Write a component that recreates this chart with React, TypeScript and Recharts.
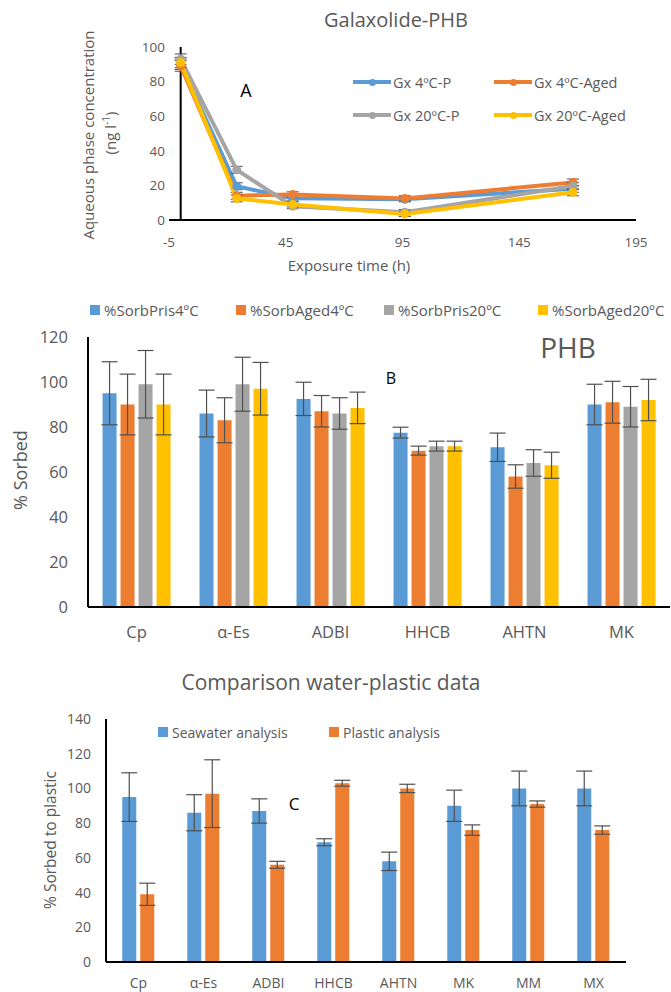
import React from "react";
import {
  LineChart,
  Line,
  BarChart,
  Bar,
  XAxis,
  YAxis,
  ErrorBar,
  ReferenceLine,
} from "recharts";

// ---- A: Galaxolide-PHB (aqueous phase concentration)
const times = [0, 24, 48, 96, 168];
const gx4P = [90, 19.5, 12.5, 12, 18];
const gx4Aged = [89, 14, 14.8, 12.5, 21.7];
const gx20P = [93, 29, 8, 4.5, 19.6];
const gx20Aged = [91, 12.5, 9, 3.5, 16];
const gx4PErr = [3, 2, 1.5, 1.5, 2];
const gx4AgedErr = [3, 2, 1.5, 1.5, 2];
const gx20PErr = [3, 2, 1.5, 1.5, 2];
const gx20AgedErr = [3, 2, 1.5, 1.5, 2];
const xTicksA = [-5, 45, 95, 145, 195];
const yTicksA = [0, 20, 40, 60, 80, 100];

// ---- B: PHB % sorbed
const catsB = ["Cp", "α-Es", "ADBI", "HHCB", "AHTN", "MK"];
const pris4 = [95, 86, 92.5, 77.5, 71, 90];
const pris4Err = [14, 10.4, 7.4, 2.4, 6.3, 9];
const aged4 = [90, 83, 87, 69.5, 58, 91];
const aged4Err = [13.5, 10, 7, 2, 5.2, 9.3];
const pris20 = [99, 99, 86, 71.5, 64, 89];
const pris20Err = [15, 12, 7, 2.2, 5.9, 9];
const aged20 = [90, 97, 88.5, 71.5, 63, 92];
const aged20Err = [13.5, 11.7, 7, 2.2, 5.8, 9.2];
const yTicksB = [0, 20, 40, 60, 80, 100, 120];

// ---- C: comparison water-plastic
const catsC = ["Cp", "α-Es", "ADBI", "HHCB", "AHTN", "MK", "MM", "MX"];
const seawater = [95, 86, 87, 69, 58, 90, 100, 100];
const seawaterErr = [14, 10.4, 7, 2, 5.3, 9, 10, 10];
const plastic = [39, 97, 56, 103, 100, 76, 91, 76];
const plasticErr = [6.4, 19.5, 2, 1.7, 2.4, 3, 1.8, 2.4];
const yTicksC = [0, 20, 40, 60, 80, 100, 120, 140];

const BLUE = "#5B9BD5";
const ORANGE = "#ED7D31";
const GRAY = "#A5A5A5";
const YELLOW = "#FFC000";
const TXT = "#595959";
const ERR = "#505050";

const dataA = times.map((t, i) => ({
  t,
  b: gx4P[i],
  bE: gx4PErr[i],
  o: gx4Aged[i],
  oE: gx4AgedErr[i],
  g: gx20P[i],
  gE: gx20PErr[i],
  y: gx20Aged[i],
  yE: gx20AgedErr[i],
}));

const dataB = catsB.map((c, i) => ({
  c,
  p4: pris4[i],
  p4E: pris4Err[i],
  a4: aged4[i],
  a4E: aged4Err[i],
  p20: pris20[i],
  p20E: pris20Err[i],
  a20: aged20[i],
  a20E: aged20Err[i],
}));

const dataC = catsC.map((c, i) => ({
  c,
  s: seawater[i],
  sE: seawaterErr[i],
  p: plastic[i],
  pE: plasticErr[i],
}));

type TProps = {
  x: number;
  y: number;
  size: number;
  color?: string;
  rotate?: boolean;
  children: React.ReactNode;
};

function T({ x, y, size, color = TXT, rotate, children }: TProps) {
  return (
    <div
      style={{
        position: "absolute",
        left: x,
        top: y,
        transform: rotate
          ? "translate(-50%,-50%) rotate(-90deg)"
          : "translate(-50%,-50%)",
        whiteSpace: "nowrap",
        fontSize: size,
        color,
        lineHeight: 1,
      }}
    >
      {children}
    </div>
  );
}

function LineKey({ x, y, color, label }: { x: number; y: number; color: string; label: string }) {
  return (
    <div style={{ position: "absolute", left: x, top: y - 8, height: 16, display: "flex", alignItems: "center" }}>
      <div style={{ position: "relative", width: 38, height: 4, background: color }}>
        <div
          style={{
            position: "absolute",
            left: 16,
            top: -1.5,
            width: 7,
            height: 7,
            borderRadius: 4,
            background: color,
          }}
        />
      </div>
      <span style={{ fontSize: 14.5, color: TXT, marginLeft: 2 }}>{label}</span>
    </div>
  );
}

function BoxKey({ x, y, color, label, size }: { x: number; y: number; color: string; label: string; size: number }) {
  return (
    <div style={{ position: "absolute", left: x, top: y - 10, height: 20, display: "flex", alignItems: "center", whiteSpace: "nowrap" }}>
      <div style={{ width: 10, height: 10, background: color }} />
      <span style={{ fontSize: size, color: TXT, marginLeft: 4 }}>{label}</span>
    </div>
  );
}

const axisStroke = { stroke: "#000", strokeWidth: 2 };

export default function App() {
  return (
    <div
      style={{
        position: "absolute",
        left: 0,
        top: 0,
        width: 671,
        height: 992,
        background: "#fff",
        fontFamily: '"Open Sans", sans-serif',
        overflow: "hidden",
      }}
    >
      {/* Chart A */}
      <div style={{ position: "absolute", left: 0, top: 0 }}>
        <LineChart width={671} height={280} data={dataA} margin={{ top: 47, right: 35, left: 0, bottom: 30 }}>
          <XAxis
            dataKey="t"
            type="number"
            domain={[-5, 195]}
            ticks={xTicksA}
            axisLine={axisStroke}
            tickLine={false}
            tickSize={0}
            tickMargin={17}
            height={30}
            tick={{ fill: TXT, fontSize: 13.5 }}
          />
          <YAxis
            domain={[0, 100]}
            ticks={yTicksA}
            axisLine={false}
            tickLine={false}
            tickSize={0}
            tickMargin={4}
            width={169}
            tick={{ fill: TXT, fontSize: 13.5 }}
          />
          <ReferenceLine x={0} stroke="#000" strokeWidth={2} />
          <Line dataKey="b" stroke={BLUE} strokeWidth={4} dot={{ r: 2.5, fill: BLUE, stroke: BLUE }} isAnimationActive={false}>
            <ErrorBar dataKey="bE" width={6} stroke={ERR} strokeWidth={1} direction="y" />
          </Line>
          <Line dataKey="o" stroke={ORANGE} strokeWidth={4} dot={{ r: 2.5, fill: ORANGE, stroke: ORANGE }} isAnimationActive={false}>
            <ErrorBar dataKey="oE" width={6} stroke={ERR} strokeWidth={1} direction="y" />
          </Line>
          <Line dataKey="g" stroke={GRAY} strokeWidth={4} dot={{ r: 2.5, fill: GRAY, stroke: GRAY }} isAnimationActive={false}>
            <ErrorBar dataKey="gE" width={6} stroke={ERR} strokeWidth={1} direction="y" />
          </Line>
          <Line dataKey="y" stroke={YELLOW} strokeWidth={4} dot={{ r: 2.5, fill: YELLOW, stroke: YELLOW }} isAnimationActive={false}>
            <ErrorBar dataKey="yE" width={6} stroke={ERR} strokeWidth={1} direction="y" />
          </Line>
        </LineChart>
      </div>
      <T x={396} y={20} size={20}>Galaxolide-PHB</T>
      <T x={246} y={90} size={18} color="#000">A</T>
      <T x={88} y={135} size={15} rotate>Aqueous phase concentration</T>
      <T x={109} y={133} size={15} rotate>
        (ng l<sup style={{ fontSize: 10 }}>-1</sup>)
      </T>
      <T x={349} y={265} size={15}>Exposure time (h)</T>
      <LineKey x={353} y={82} color={BLUE} label="Gx 4ºC-P" />
      <LineKey x={494} y={82} color={ORANGE} label="Gx 4ºC-Aged" />
      <LineKey x={353} y={115} color={GRAY} label="Gx 20ºC-P" />
      <LineKey x={494} y={115} color={YELLOW} label="Gx 20ºC-Aged" />

      {/* Chart B */}
      <div style={{ position: "absolute", left: 0, top: 285 }}>
        <BarChart
          width={671}
          height={360}
          data={dataB}
          margin={{ top: 52, right: 1, left: 0, bottom: 8 }}
          barCategoryGap="15%"
          barGap={4}
        >
          <XAxis
            dataKey="c"
            axisLine={axisStroke}
            tickLine={false}
            tickSize={0}
            tickMargin={19}
            height={30}
            interval={0}
            tick={{ fill: TXT, fontSize: 16.5 }}
          />
          <YAxis
            domain={[0, 120]}
            ticks={yTicksB}
            axisLine={axisStroke}
            tickLine={false}
            tickSize={0}
            tickMargin={20}
            width={88}
            tick={{ fill: TXT, fontSize: 16.5 }}
          />
          <Bar dataKey="p4" fill={BLUE} isAnimationActive={false}>
            <ErrorBar dataKey="p4E" width={8} stroke={ERR} strokeWidth={1.2} direction="y" />
          </Bar>
          <Bar dataKey="a4" fill={ORANGE} isAnimationActive={false}>
            <ErrorBar dataKey="a4E" width={8} stroke={ERR} strokeWidth={1.2} direction="y" />
          </Bar>
          <Bar dataKey="p20" fill={GRAY} isAnimationActive={false}>
            <ErrorBar dataKey="p20E" width={8} stroke={ERR} strokeWidth={1.2} direction="y" />
          </Bar>
          <Bar dataKey="a20" fill={YELLOW} isAnimationActive={false}>
            <ErrorBar dataKey="a20E" width={8} stroke={ERR} strokeWidth={1.2} direction="y" />
          </Bar>
        </BarChart>
      </div>
      <BoxKey x={90} y={310} color={BLUE} label="%SorbPris4ºC" size={15} />
      <BoxKey x={236} y={310} color={ORANGE} label="%SorbAged4ºC" size={15} />
      <BoxKey x={384} y={310} color={GRAY} label="%SorbPris20ºC" size={15} />
      <BoxKey x={538} y={310} color={YELLOW} label="%SorbAged20ºC" size={15} />
      <T x={568} y={347} size={28}>PHB</T>
      <T x={391} y={378} size={16} color="#000">B</T>
      <T x={20} y={470} size={18} rotate>% Sorbed</T>

      {/* Chart C */}
      <div style={{ position: "absolute", left: 0, top: 700 }}>
        <BarChart
          width={671}
          height={292}
          data={dataC}
          margin={{ top: 19, right: 45, left: 0, bottom: 2 }}
          barCategoryGap="25%"
          barGap={4}
        >
          <XAxis
            dataKey="c"
            axisLine={axisStroke}
            tickLine={false}
            tickSize={0}
            tickMargin={16}
            height={28}
            interval={0}
            tick={{ fill: TXT, fontSize: 14 }}
          />
          <YAxis
            domain={[0, 140]}
            ticks={yTicksC}
            axisLine={axisStroke}
            tickLine={false}
            tickSize={0}
            tickMargin={15}
            width={106}
            tick={{ fill: TXT, fontSize: 14 }}
          />
          <Bar dataKey="s" fill={BLUE} isAnimationActive={false}>
            <ErrorBar dataKey="sE" width={8} stroke={ERR} strokeWidth={1.2} direction="y" />
          </Bar>
          <Bar dataKey="p" fill={ORANGE} isAnimationActive={false}>
            <ErrorBar dataKey="pE" width={8} stroke={ERR} strokeWidth={1.2} direction="y" />
          </Bar>
        </BarChart>
      </div>
      <T x={331} y={682} size={21}>Comparison water-plastic data</T>
      <BoxKey x={158} y={732} color={BLUE} label="Seawater analysis" size={14} />
      <BoxKey x={329} y={732} color={ORANGE} label="Plastic analysis" size={14} />
      <T x={294} y={803} size={17} color="#000">C</T>
      <T x={51} y={840} size={15.5} rotate>% Sorbed to plastic</T>
    </div>
  );
}
